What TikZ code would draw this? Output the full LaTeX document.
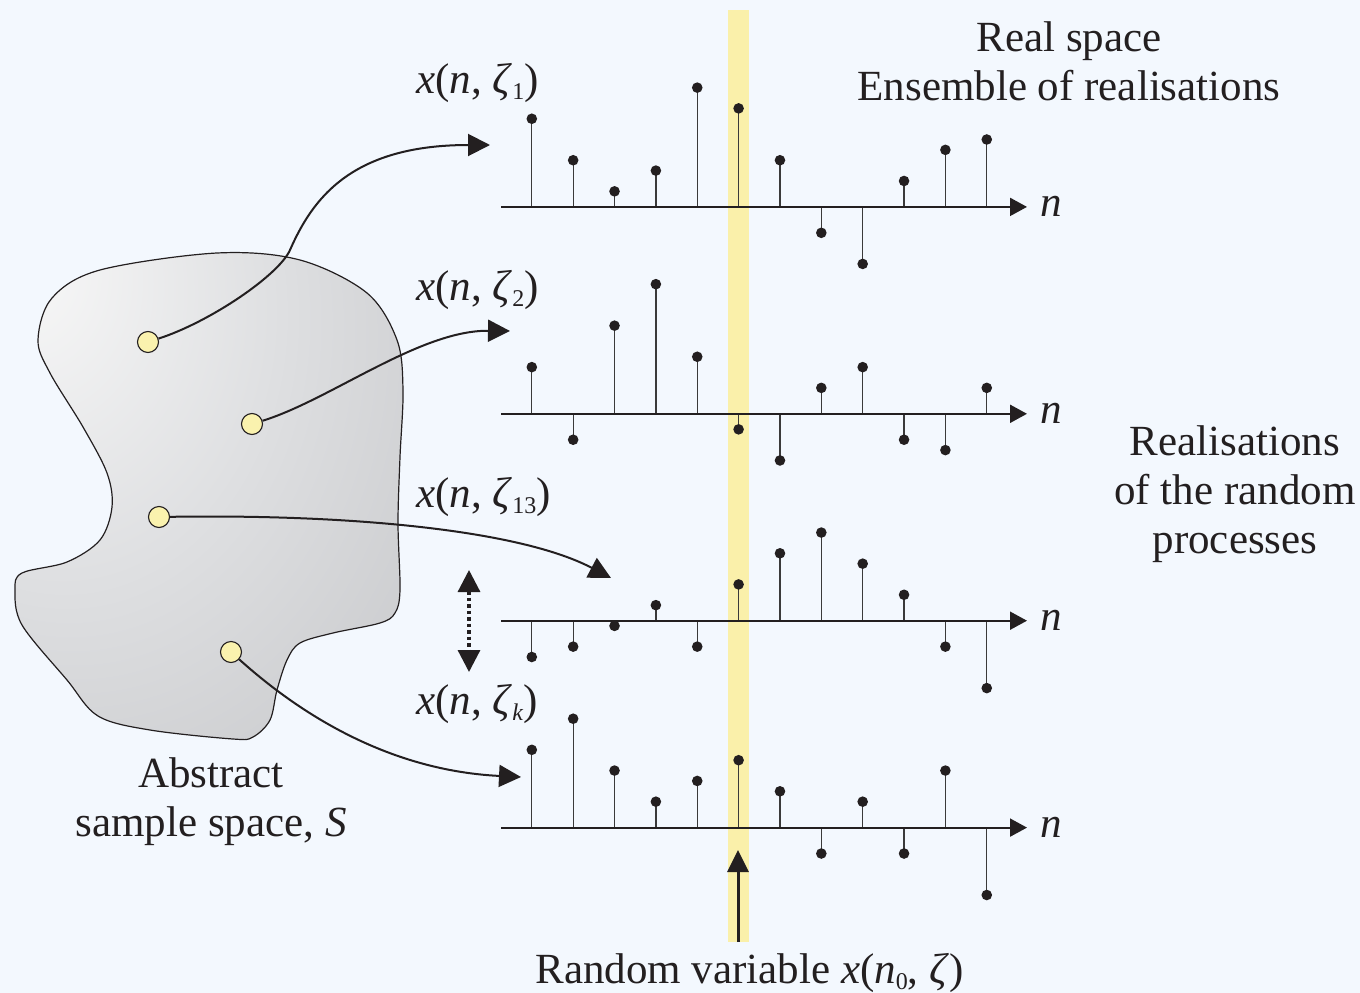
\documentclass[tikz,border=0pt]{standalone}
\usepackage{fontspec}
\setmainfont{Liberation Serif}
\newfontfamily\tnr{Liberation Serif}
\usetikzlibrary{arrows.meta}
\definecolor{bg}{HTML}{F3F8FE}
\definecolor{band}{HTML}{FAF0AA}
\definecolor{ptfill}{HTML}{FAF2AE}
\definecolor{ink}{HTML}{231F20}
\definecolor{stemc}{HTML}{3A3A3A}
\definecolor{blobA}{HTML}{F9F9F9}
\definecolor{blobB}{HTML}{DEDFE1}
\definecolor{blobC}{HTML}{B6B7BA}
\definecolor{blobD}{HTML}{A2A3A7}
\pgfdeclareradialshading{blobshade}{\pgfpoint{-25bp}{25bp}}{color(0bp)=(blobA); color(28bp)=(blobB); color(75bp)=(blobC); color(110bp)=(blobD)}
\newcommand\zs[1]{\raisebox{-6pt}{\fontsize{24}{24}\selectfont #1}}
\begin{document}
\begin{tikzpicture}[x=1pt,y=-1pt,
  txt/.style={font=\tnr\fontsize{43}{49}\selectfont, text=ink, inner sep=0pt},
  stemline/.style={draw=stemc, line width=1.3pt},
  axisline/.style={draw=ink, line width=2pt, -{Triangle[length=17pt,width=18pt]}},
  conn/.style={draw=ink, line width=2pt, -{Triangle[length=22pt,width=22pt]}},
  sampt/.style={circle, minimum size=21pt, inner sep=0pt, fill=ptfill, draw=ink, line width=1.1pt}]
\fill[bg] (0,0) rectangle (1360,993);
\useasboundingbox (0,0) rectangle (1360,993);
% abstract sample space
\shade[shading=blobshade, draw=ink, line width=1.2pt]
  plot[smooth cycle, tension=0.55] coordinates {
  (38,340) (52,298) (100,270) (217,253) (300,260) (367,293) (397,340) (403,390)
  (400,457) (398,523) (400,590) (395,613) (380,623) (333,633) (300,643) (287,660)
  (277,690) (270,720) (253,737) (233,739) (150,730) (98,716) (67,680) (22,625)
  (15,590) (22,573) (67,562) (100,540) (112,507) (107,473) (83,427) (50,373)};
% random variable band
\fill[band] (728,10) rectangle (749,942);
% realisations
\foreach \vals [count=\k] in {
  {8.5,4.5,1.5,3.5,11.5,9.5,4.5,-2.5,-5.5,2.5,5.5,6.5},
  {4.5,-2.5,8.5,12.5,5.5,-1.5,-4.5,2.5,4.5,-2.5,-3.5,2.5},
  {-3.5,-2.5,-0.5,1.5,-2.5,3.5,6.5,8.5,5.5,2.5,-2.5,-6.5},
  {7.5,10.5,5.5,2.5,4.5,6.5,3.5,-2.5,2.5,-2.5,5.5,-6.5}}{
  \pgfmathsetmacro\ay{206.9*\k}
  \foreach \v [count=\i from 0] in \vals {
    \pgfmathsetmacro\sx{531.8+41.36*\i}
    \pgfmathsetmacro\sy{\ay-\v*10.37}
    \draw[stemline] (\sx,\ay) -- (\sx,\sy);
    \fill[ink] (\sx,\sy) circle[radius=5.3];
  }
  \coordinate (a\k s) at (501,\ay);
  \coordinate (a\k e) at (1027,\ay);
  \draw[axisline] (a\k s) -- (a\k e);
  \node[txt, anchor=base west] (n\k) at (1040,\ay+10) {\textit{n}};
}
% labels
\node[txt, anchor=base west] (l1) at (416,93) {\textit{x}(\textit{n}, \textit{ζ}\zs{1})};
\node[txt, anchor=base west] (l2) at (416,300) {\textit{x}(\textit{n}, \textit{ζ}\zs{2})};
\node[txt, anchor=base west] (l3) at (416,507) {\textit{x}(\textit{n}, \textit{ζ}\zs{13})};
\node[txt, anchor=base west] (l4) at (416,714) {\textit{x}(\textit{n}, \textit{ζ}\zs{\textit{k}})};
% sample points
\node[sampt] (p1) at (148,342) {};
\node[sampt] (p2) at (252,424) {};
\node[sampt] (p3) at (159,517) {};
\node[sampt] (p4) at (231,652) {};
\coordinate (e1) at (490,145);
\coordinate (e2) at (510,331);
\coordinate (e3) at (611,578);
\coordinate (e4) at (521,777);
\draw[conn] (p1) .. controls (210,322) and (279,275) .. (290,250) .. controls (312,200) and (350,145) .. (e1);
\draw[conn] (p2) .. controls (330,400) and (420,330) .. (e2);
\draw[conn] (p3) .. controls (350,514) and (520,530) .. (e3);
\draw[conn] (p4) .. controls (290,705) and (380,770) .. (e4);
% dotted double arrow
\coordinate (d1) at (469,570);
\coordinate (d2) at (469,672);
\draw[draw=ink, line width=3.2pt, dash pattern=on 3.5pt off 3pt, {Triangle[length=22pt,width=22pt]}-{Triangle[length=22pt,width=22pt]}] (d1) -- (d2);
% random variable arrow
\coordinate (r1) at (738,942);
\coordinate (r2) at (738,850);
\draw[draw=ink, line width=3pt, -{Triangle[length=22pt,width=21pt]}] (r1) -- (r2);
% texts
\node[txt, align=center, anchor=base] (title) at (1069,100) {Real space\\Ensemble of realisations};
\node[txt, align=center, anchor=base] (real) at (1235,553) {Realisations\\of the random\\processes};
\node[txt, align=center, anchor=base] (abs) at (211,836) {Abstract\\sample space, \textit{S}};
\node[txt, anchor=base] (rv) at (749.5,983) {Random variable \textit{x}(\textit{n}\zs{0}, \textit{ζ})};
\end{tikzpicture}
\end{document}
